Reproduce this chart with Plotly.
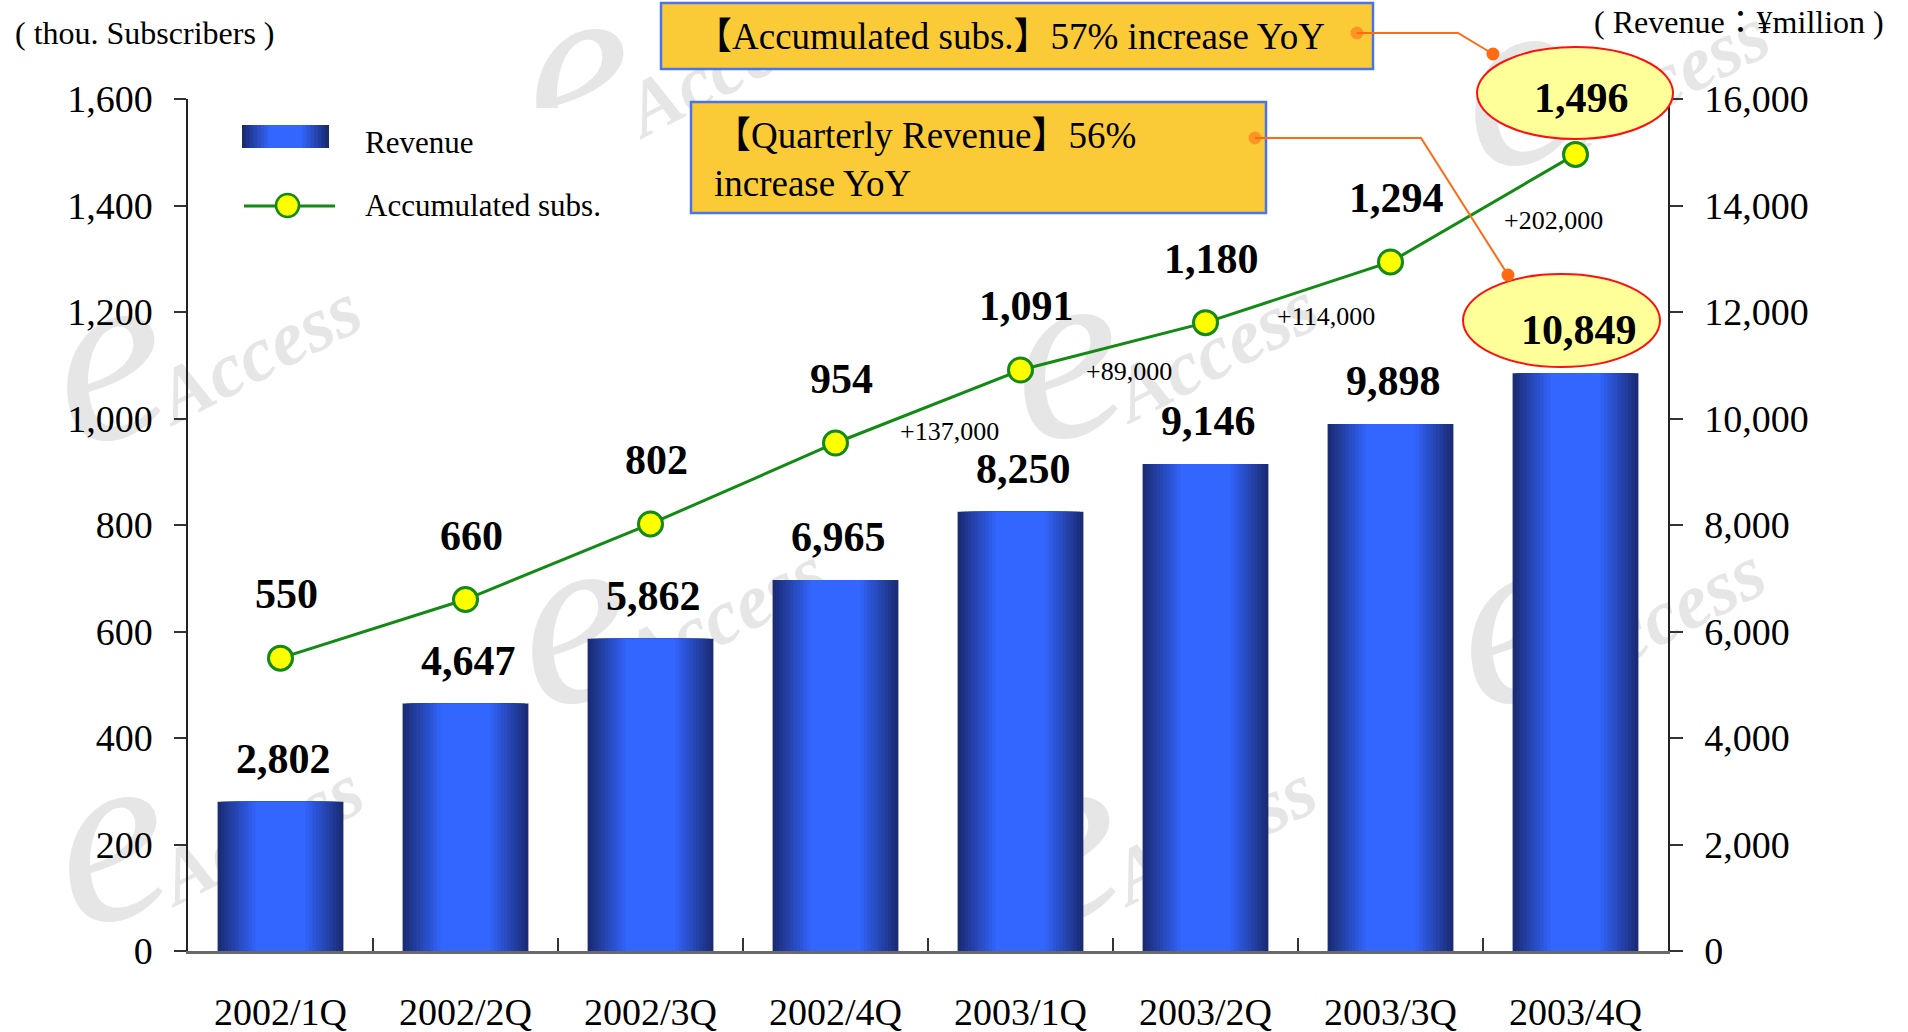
import plotly.graph_objects as go

# ---------------- data ----------------
quarters = ["2002/1Q", "2002/2Q", "2002/3Q", "2002/4Q",
            "2003/1Q", "2003/2Q", "2003/3Q", "2003/4Q"]
revenue = [2802, 4647, 5862, 6965, 8250, 9146, 9898, 10849]        # ¥million (right axis)
subscribers = [550, 660, 802, 954, 1091, 1180, 1294, 1496]          # thou. (left axis)
subs_tickvals = [0, 200, 400, 600, 800, 1000, 1200, 1400, 1600]
rev_tickvals = [0, 2000, 4000, 6000, 8000, 10000, 12000, 14000, 16000]
increment_start = 4  # quarter-on-quarter increments labelled from 2003/1Q on

legend_names = ["Revenue", "Accumulated subs."]
left_title = "( thou. Subscribers )"
right_title = "( Revenue：¥million )"
callout_subs = "【Accumulated subs.】57% increase YoY"
callout_rev = "【Quarterly Revenue】56%<br>increase YoY"

# ---------------- geometry helpers (pixel -> paper) ----------------
W, H = 1908, 1032
L, R, T, B = 188, 1668, 99, 951
PW, PH = R - L, B - T


def px(x):
    return (x - L) / PW


def py(y):
    return (B - y) / PH


SERIF = "Liberation Serif, Times New Roman, serif"
CJK = "Liberation Serif, Noto Sans CJK JP, serif"
GREEN = "#138A13"
ORANGE = "#FF6A13"

fig = go.Figure()

# gradient bars: nested overlaid bars, dark navy edges -> bright blue centre
dark = (27, 44, 118)
bright = (51, 102, 255)
n_layers = 12
for k in range(n_layers):
    t = k / (n_layers - 1)
    w = 0.68 * (1 - 0.6 * t)
    c = tuple(round(dark[j] + (bright[j] - dark[j]) * t) for j in range(3))
    fig.add_trace(go.Bar(
        x=quarters, y=revenue, width=w, yaxis="y",
        marker=dict(color="rgb(%d,%d,%d)" % c, line=dict(width=0)),
        showlegend=False, hoverinfo="skip" if k else "x+y", name=legend_names[0]))

fig.add_trace(go.Scatter(
    x=quarters, y=subscribers, yaxis="y2", mode="lines+markers",
    name=legend_names[1], showlegend=False,
    line=dict(color=GREEN, width=3),
    marker=dict(size=24, color="#FFFF00", line=dict(color=GREEN, width=3))))

axis_font = dict(family=SERIF, size=38, color="black")

fig.update_layout(
    width=W, height=H,
    margin=dict(l=L, r=W - R, t=T, b=H - B, pad=0, autoexpand=False),
    paper_bgcolor="white", plot_bgcolor="rgba(0,0,0,0)",
    barmode="overlay", showlegend=False,
    xaxis=dict(type="category", range=[-0.5, 7.5], showline=True, linecolor="#6a6a6a",
               linewidth=2.5, ticks="inside", tickson="boundaries", ticklen=13,
               tickwidth=1.5, tickcolor="#333", tickfont=axis_font, automargin=False,
               ticklabelstandoff=26, showgrid=False, zeroline=False),
    yaxis=dict(range=[0, 16000], side="right", tickvals=rev_tickvals, tickformat=",d",
               showline=True, linecolor="#222", linewidth=1.5, ticks="outside",
               ticklen=13, tickwidth=1.5, tickcolor="#333", tickfont=axis_font,
               automargin=False, ticklabelstandoff=14, showgrid=False, zeroline=False),
    yaxis2=dict(range=[0, 1600], overlaying="y", side="left", tickvals=subs_tickvals,
                tickformat=",d", showline=True, linecolor="#222", linewidth=1.5,
                ticks="outside", ticklen=12, tickwidth=1.5, tickcolor="#333",
                tickfont=axis_font, automargin=False, ticklabelstandoff=14,
                showgrid=False, zeroline=False),
)

shapes = []
ann = []

# --- faint "eAccess" watermarks (below the plot) ---
WM = "#E6E6E6"
E_SIZE = 250
for ex, ey in [(101, 387), (570, 100), (566, 650), (103, 868),
               (1058, 385), (1056, 868), (1509, 112), (1505, 650)]:
    ly = ey - 0.24 * E_SIZE
    shapes.append(dict(type="rect", xref="paper", yref="paper",
                       x0=px(ex - 70), x1=px(ex + 70), y0=py(ly + 90), y1=py(ly - 90),
                       line=dict(width=0), fillcolor="rgba(0,0,0,0)", layer="below",
                       label=dict(text="<i>e</i>", textangle=-12, textposition="middle center",
                                  font=dict(family=SERIF, size=E_SIZE, color=WM))))
    ax_, ay_ = ex + 154, ey - 42
    shapes.append(dict(type="rect", xref="paper", yref="paper",
                       x0=px(ax_ - 130), x1=px(ax_ + 130), y0=py(ay_ + 60), y1=py(ay_ - 60),
                       line=dict(width=0), fillcolor="rgba(0,0,0,0)", layer="below",
                       label=dict(text="<i><b>Access</b></i>", textangle=-27,
                                  textposition="middle center",
                                  font=dict(family=SERIF, size=78, color=WM))))

# --- legend (manual) ---
shapes.append(dict(type="rect", xref="paper", yref="paper", x0=px(222), x1=px(640),
                   y0=py(238), y1=py(108), line=dict(width=0), fillcolor="white", layer="below"))
sx0, sx1, sy0, sy1 = 242, 329, 125, 148
for k in range(8):
    t = k / 7
    inset = (sx1 - sx0) * 0.3 * t
    c = tuple(round(dark[j] + (bright[j] - dark[j]) * t) for j in range(3))
    shapes.append(dict(type="rect", xref="paper", yref="paper",
                       x0=px(sx0 + inset), x1=px(sx1 - inset), y0=py(sy1), y1=py(sy0),
                       line=dict(width=0), fillcolor="rgb(%d,%d,%d)" % c, layer="above"))
shapes.append(dict(type="line", xref="paper", yref="paper", x0=px(244), x1=px(335),
                   y0=py(206), y1=py(206), line=dict(color=GREEN, width=3), layer="above"))
shapes.append(dict(type="circle", xref="paper", yref="paper", x0=px(276), x1=px(299),
                   y0=py(217), y1=py(194), line=dict(color=GREEN, width=2.5),
                   fillcolor="#FFFF00", layer="above"))
for name, yy in zip(legend_names, [142, 205]):
    ann.append(dict(xref="paper", yref="paper", x=px(363), y=py(yy), text=name,
                    xanchor="left", yanchor="middle", showarrow=False,
                    font=dict(family=SERIF, size=31, color="black")))

# --- axis titles ---
ann.append(dict(xref="paper", yref="paper", x=px(13), y=py(33), text=left_title,
                xanchor="left", yanchor="middle", showarrow=False,
                font=dict(family=SERIF, size=32, color="black")))
ann.append(dict(xref="paper", yref="paper", x=px(1886), y=py(22), text=right_title,
                xanchor="right", yanchor="middle", showarrow=False,
                font=dict(family=CJK, size=32, color="black")))

# --- callout boxes ---
BOX_FILL = "#FACB36"
BOX_LINE = "#4A74EE"
shapes.append(dict(type="rect", xref="paper", yref="paper", x0=px(661), x1=px(1373),
                   y0=py(69), y1=py(3), line=dict(color=BOX_LINE, width=2.5),
                   fillcolor=BOX_FILL, layer="above"))
shapes.append(dict(type="rect", xref="paper", yref="paper", x0=px(691), x1=px(1266),
                   y0=py(213), y1=py(102), line=dict(color=BOX_LINE, width=2.5),
                   fillcolor=BOX_FILL, layer="above"))
ann.append(dict(xref="paper", yref="paper", x=px(1010), y=py(37), text=callout_subs,
                xanchor="center", yanchor="middle", showarrow=False,
                font=dict(family=CJK, size=37, color="black")))
ann.append(dict(xref="paper", yref="paper", x=px(712), y=py(159), text=callout_rev,
                xanchor="left", yanchor="middle", align="left", showarrow=False,
                font=dict(family=CJK, size=37, color="black")))

# --- highlight ellipses ---
shapes.append(dict(type="circle", xref="paper", yref="paper", x0=px(1477), x1=px(1673),
                   y0=py(139), y1=py(47), line=dict(color="#FF1010", width=2),
                   fillcolor="#FFFF99", layer="above"))
shapes.append(dict(type="circle", xref="paper", yref="paper", x0=px(1463), x1=px(1660),
                   y0=py(367), y1=py(274), line=dict(color="#FF1010", width=2),
                   fillcolor="#FFFF99", layer="above"))

# --- connectors ---
for pts in [[(1357, 33), (1458, 33), (1493, 54)], [(1255, 138), (1421, 138), (1508, 275)]]:
    path = "M %f %f L %f %f L %f %f" % (px(pts[0][0]), py(pts[0][1]), px(pts[1][0]),
                                        py(pts[1][1]), px(pts[2][0]), py(pts[2][1]))
    shapes.append(dict(type="path", xref="paper", yref="paper", path=path,
                       line=dict(color=ORANGE, width=2), layer="above"))
    for (cx, cy), op in [(pts[0], 0.55), (pts[2], 1.0)]:
        shapes.append(dict(type="circle", xref="paper", yref="paper",
                           x0=px(cx - 6.5), x1=px(cx + 6.5), y0=py(cy + 6.5), y1=py(cy - 6.5),
                           line=dict(width=0), fillcolor=ORANGE, opacity=op, layer="above"))

# --- data labels ---
label_font = dict(family=SERIF, size=42, color="black")
for i, (q, v) in enumerate(zip(quarters, subscribers)):
    ann.append(dict(x=q, y=v, xref="x", yref="y2", text="<b>%s</b>" % format(v, ","),
                    showarrow=False, xshift=6, yshift=56 if i == len(quarters) - 1 else 64,
                    font=label_font))
for q, v in zip(quarters, revenue):
    ann.append(dict(x=q, y=v, xref="x", yref="y", text="<b>%s</b>" % format(v, ","),
                    showarrow=False, xshift=3, yshift=43, font=label_font))

inc_shifts = [(21, -25), (16, -25), (28, -24), (70, -12)]
for k, i in enumerate(range(increment_start, len(quarters))):
    diff = (subscribers[i] - subscribers[i - 1]) * 1000
    mid = (subscribers[i] + subscribers[i - 1]) / 2
    ann.append(dict(x=i - 0.5, y=mid, xref="x", yref="y2", text="+" + format(diff, ","),
                    showarrow=False, xshift=inc_shifts[k][0], yshift=inc_shifts[k][1],
                    font=dict(family=SERIF, size=26, color="black")))

fig.update_layout(shapes=shapes, annotations=ann)

fig.write_html("out.html", config={"displayModeBar": False},
               post_script="document.body.style.margin='0';document.body.style.overflow='hidden';")
